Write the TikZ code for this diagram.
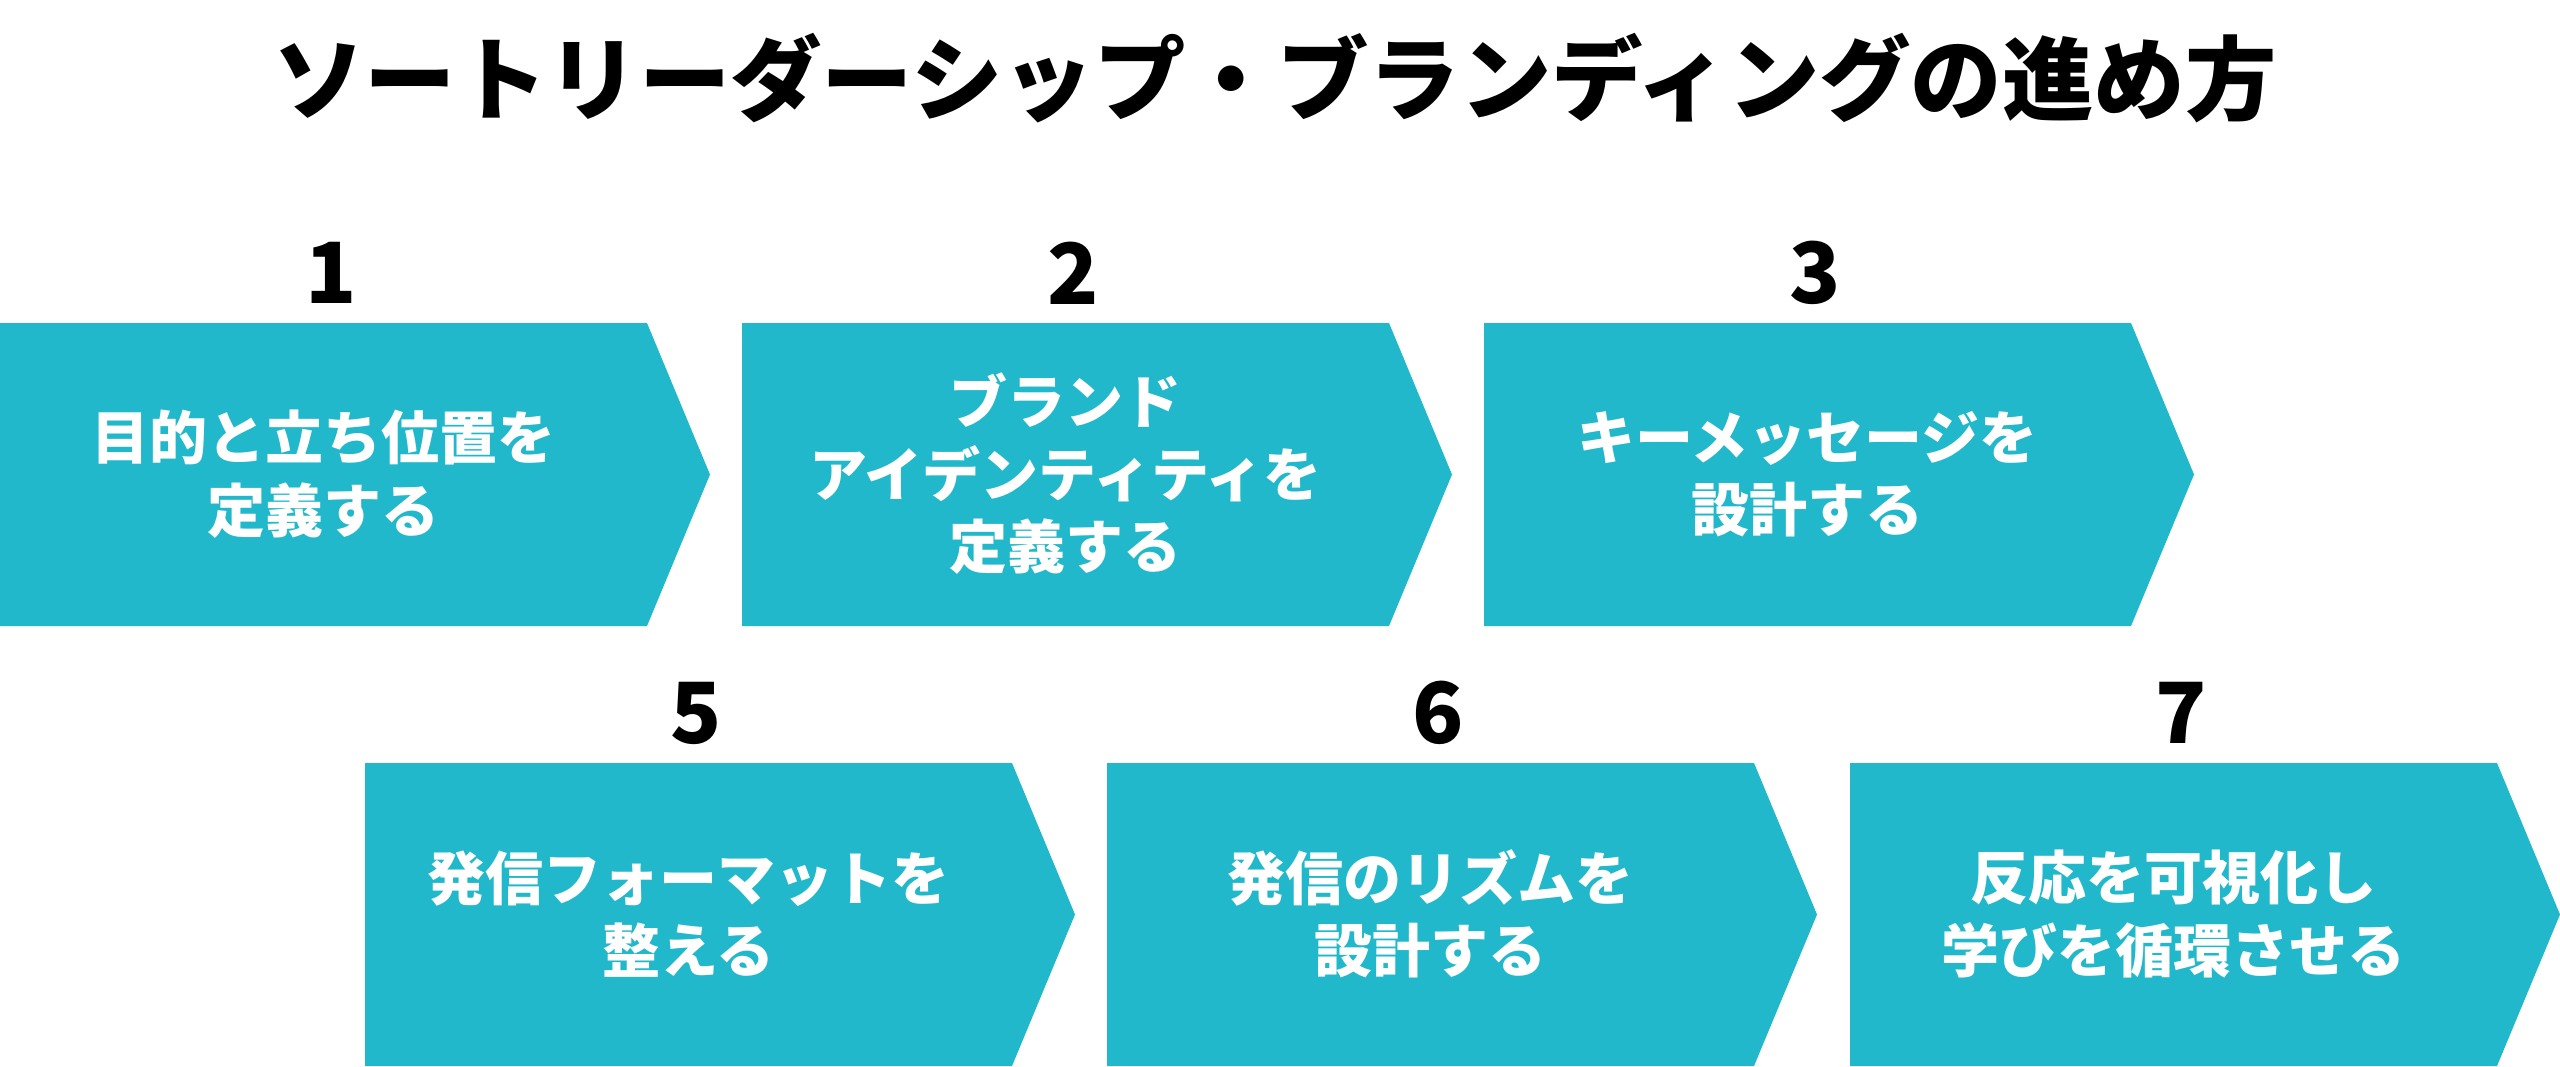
\documentclass[tikz,border=0pt]{standalone}
\usepackage{fontspec}
\setmainfont{Noto Sans CJK JP}
\definecolor{stepteal}{RGB}{32,184,202}
\tikzset{
  steptext/.style={text=white, font=\bfseries\fontsize{16.5}{20.6}\selectfont, align=center},
  stepnum/.style={font=\bfseries\fontsize{24}{24}\selectfont}
}
\begin{document}
\begin{tikzpicture}[x=0.01cm,y=-0.01cm]
\useasboundingbox (0,0) rectangle (2560,1066);
\node[font=\bfseries\fontsize{26}{26}\selectfont] (title) at (1275,78) {ソートリーダーシップ・ブランディングの進め方};
% steps: left, top, number, text
\foreach \x/\y/\n/\txt in {0/323/1/{目的と立ち位置を\\定義する}, 742/323/2/{ブランド\\アイデンティティを\\定義する}, 1484/323/3/{キーメッセージを\\設計する}, 365/763/5/{発信フォーマットを\\整える}, 1107/763/6/{発信のリズムを\\設計する}, 1850/763/7/{反応を可視化し\\学びを循環させる}}
{
  \fill[stepteal] (\x,\y) -- ++(647,0) -- ++(63,151.5) -- ++(-63,151.5) -- ++(-647,0) -- cycle;
  \node[steptext] (t\n) at (\x+323.5,\y+151) {\txt};
  \node[stepnum] (n\n) at (\x+331,\y-50) {\n};
}
\end{tikzpicture}
\end{document}
